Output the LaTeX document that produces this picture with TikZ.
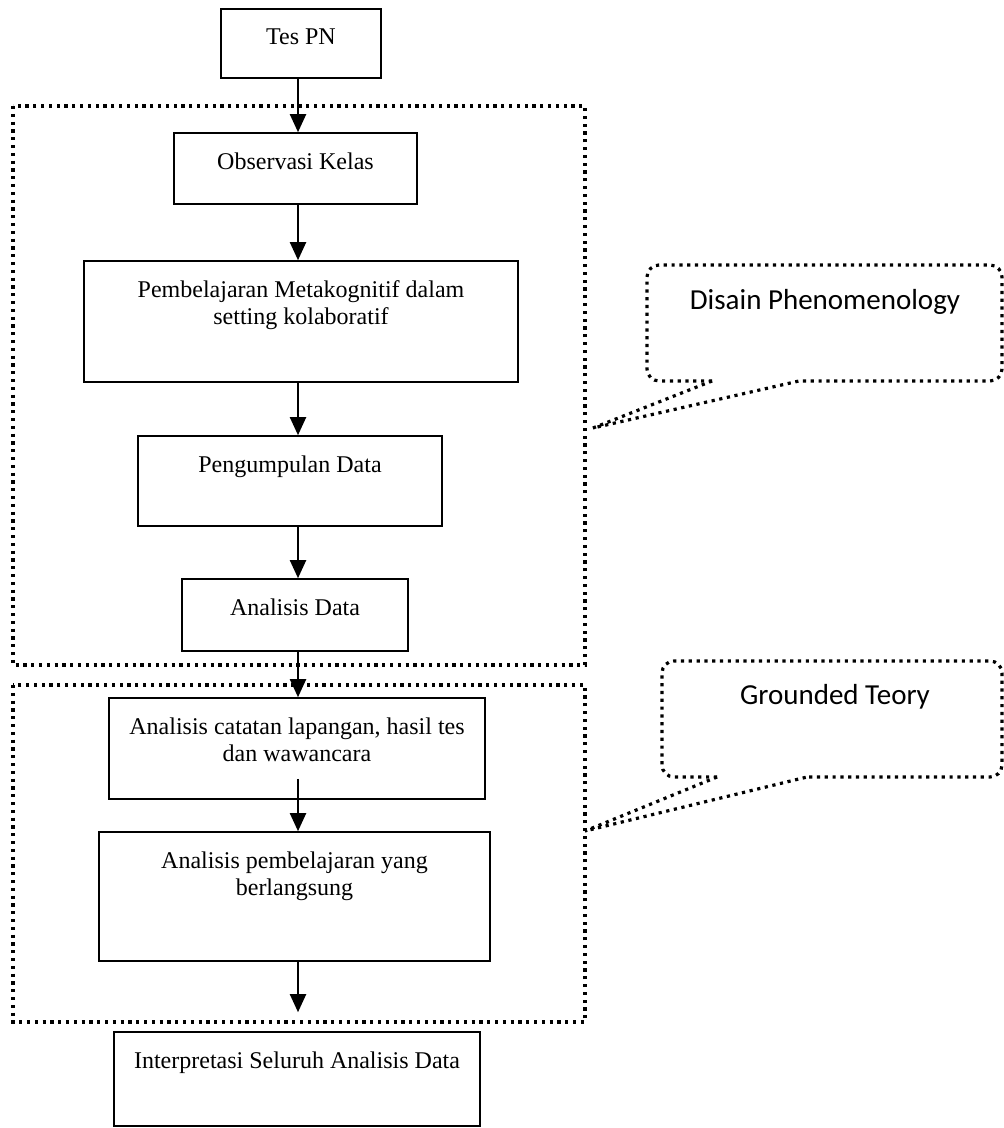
\documentclass[tikz,border=0pt]{standalone}
\usepackage{fontspec}
\setmainfont{Liberation Serif}
\newfontfamily\calibri{Carlito}
\usetikzlibrary{arrows.meta}

\begin{document}
\begin{tikzpicture}[x=0.5pt,y=-0.5pt]
    \tikzstyle{every node}=[font=\fontsize{12}{13.6}\selectfont]
    \tikzstyle{box}=[draw,rectangle,line width=0.8pt,inner sep=0pt]
    \tikzstyle{boxtext}=[anchor=north,align=center,inner sep=0pt,yshift=-10pt]
    \tikzstyle{arr}=[line width=1pt,-{Triangle[width=8pt,length=9pt]}]
    \tikzstyle{dots}=[line width=1.6pt,dash pattern=on 1.6pt off 2.3pt]
    \tikzstyle{calltext}=[font=\calibri\fontsize{14.5}{17}\selectfont]
    \useasboundingbox (0,0) rectangle (1004,1128);
    %%% HELP LINES - uncomment to check positions
    %\draw[step=100,gray,very thin] (0,0) grid (1000,1100);
    \coordinate (AX) at (298,0);
    % Tes PN
    \node at (301,43.5) [box,minimum width=80pt,minimum height=34.5pt,
        label={[boxtext]north:Tes PN}] (TES) {};
    % Phenomenology part
    \draw[dots] (13,106) rectangle (585,665);
    \node at (295.5,168.5) [box,minimum width=121.5pt,minimum height=35.5pt,
        label={[boxtext]north:Observasi Kelas}] (OBS) {};
    \node at (301,321.5) [box,minimum width=217pt,minimum height=60.5pt,
        label={[boxtext]north:Pembelajaran Metakognitif dalam\\setting kolaboratif}] (PEM) {};
    \node at (290,481) [box,minimum width=152pt,minimum height=45pt,
        label={[boxtext]north:Pengumpulan Data}] (PENG) {};
    \node at (295,615) [box,minimum width=113pt,minimum height=36pt,
        label={[boxtext]north:Analisis Data}] (ANA) {};
    % Grounded part
    \draw[dots] (13,685) rectangle (585,1022);
    \node at (297,748.5) [box,minimum width=188pt,minimum height=50.5pt,
        label={[boxtext]north:Analisis catatan lapangan, hasil tes\\dan wawancara}] (CAT) {};
    \node at (294.5,896.5) [box,minimum width=195.5pt,minimum height=64.5pt,
        label={[boxtext]north:Analisis pembelajaran yang\\berlangsung}] (PBL) {};
    % Interpretasi
    \node at (297,1079) [box,minimum width=183pt,minimum height=47pt,
        label={[boxtext]north:Interpretasi Seluruh Analisis Data}] (INT) {};
    \coordinate (CATOUT) at ([yshift=10.5pt]CAT.south);
    \coordinate (PBLEND) at ([yshift=9.5pt]INT.north);
    % callout Phenomenology
    \draw[dots,rounded corners=6pt] (712,381) -- (647,381) -- (647,265) -- (1002,265) -- (1002,381) -- (799,381);
    \draw[dots] (712,381) -- (593,428) -- (799,381);
    \node at (825,302) [calltext] (PHEN) {Disain Phenomenology};
    % callout Grounded
    \draw[dots,rounded corners=6pt] (717,777) -- (662,777) -- (662,661) -- (1002,661) -- (1002,777) -- (807,777);
    \draw[dots] (717,777) -- (585,831) -- (807,777);
    \node at (835,697) [calltext] (GROUND) {Grounded Teory};

    \path
    (TES.south -| AX) edge [arr] (OBS.north -| AX)
    (OBS.south -| AX) edge [arr] (PEM.north -| AX)
    (PEM.south -| AX) edge [arr] (PENG.north -| AX)
    (PENG.south -| AX) edge [arr] (ANA.north -| AX)
    (ANA.south -| AX) edge [arr] (CAT.north -| AX)
    (CATOUT -| AX) edge [arr] (PBL.north -| AX)
    (PBL.south -| AX) edge [arr] (PBLEND -| AX);
\end{tikzpicture}
\end{document}
